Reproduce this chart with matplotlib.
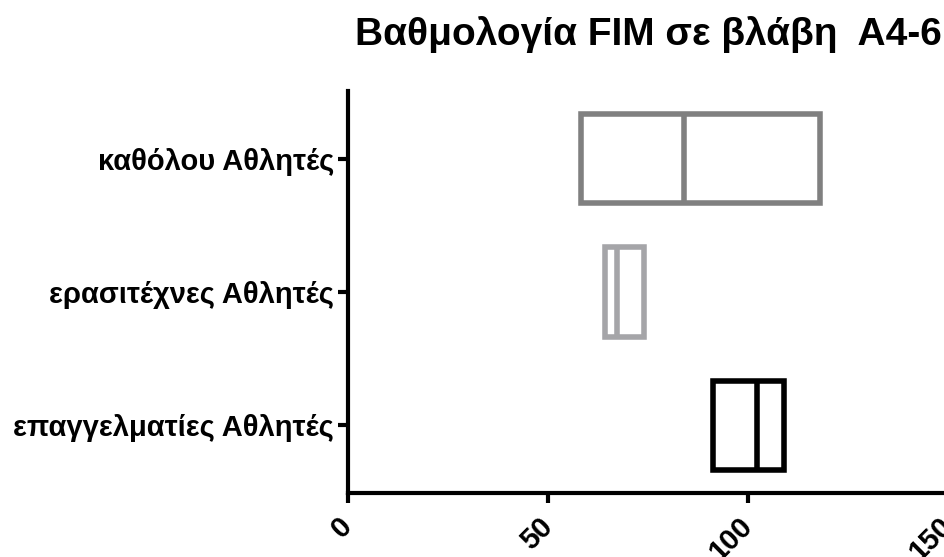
import matplotlib
matplotlib.use("Agg")
import matplotlib.pyplot as plt

# data (bottom to top)
categories = ["επαγγελματίες Αθλητές", "ερασιτέχνες Αθλητές", "καθόλου Αθλητές"]
q1 = [91.2, 64.2, 58.2]
median = [102.2, 67.2, 84.1]
q3 = [109.1, 74.1, 118.1]
colors = ["#000000", "#a5a5a8", "#808080"]
xticks = [0, 50, 100, 150]

plt.rcParams["font.family"] = ["Liberation Sans", "DejaVu Sans"]
plt.rcParams["font.weight"] = "bold"

fig = plt.figure(figsize=(9.44, 5.57), dpi=100)
ax = fig.add_axes([348 / 944, 64 / 557, 600 / 944, 402 / 557])

pos = list(range(len(categories)))
h = 0.67
ax.barh(pos, [b - a for a, b in zip(q1, q3)], left=q1, height=h,
        fill=False, edgecolor=colors, linewidth=4)
for y, m, c in zip(pos, median, colors):
    ax.vlines(m, y - h / 2, y + h / 2, color=c, linewidth=4)

ax.set_xlim(0, 150)
ax.set_ylim(-0.51, 2.51)
ax.set_yticks(pos)
ax.set_yticklabels(categories, fontsize=21, fontweight="bold")
ax.set_xticks(xticks)
ax.set_xticklabels([str(t) for t in xticks], fontsize=21, fontweight="bold",
                   rotation=45, ha="right", va="center", rotation_mode="anchor")

for s in ["top", "right"]:
    ax.spines[s].set_visible(False)
for s in ["left", "bottom"]:
    ax.spines[s].set_linewidth(3)
ax.tick_params(axis="both", length=7, width=3)
ax.tick_params(axis="y", pad=3)
ax.tick_params(axis="x", pad=14)

ax.set_title("Βαθμολογία FIM σε βλάβη  A4-6", fontsize=28, fontweight="bold", pad=33)

fig.savefig("out.png", dpi=100)
